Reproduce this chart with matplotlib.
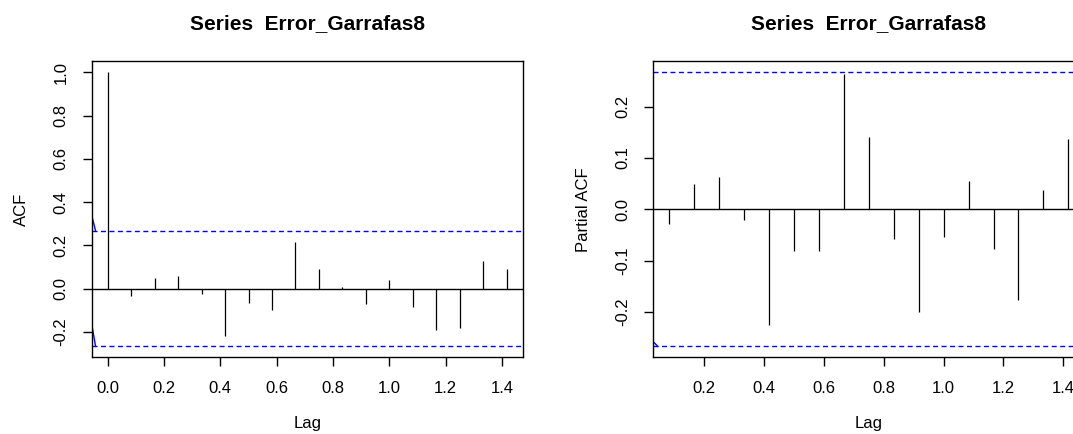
import numpy as np
import matplotlib
matplotlib.use("Agg")
import matplotlib.pyplot as plt

plt.rcParams['font.family'] = ['Liberation Sans', 'DejaVu Sans']
plt.rcParams['axes.unicode_minus'] = False

# series values (monthly series, lag in years)
n_obs = 54
acf_lags = np.arange(0, 18) / 12
acf_vals = [1.0, -0.034, 0.051, 0.059, -0.025, -0.221, -0.065, -0.100, 0.215,
            0.091, 0.006, -0.070, 0.039, -0.087, -0.193, -0.180, 0.127, 0.090]
pacf_lags = np.arange(1, 18) / 12
pacf_vals = [-0.028, 0.049, 0.063, -0.021, -0.225, -0.081, -0.081, 0.264, 0.140,
             -0.058, -0.199, -0.053, 0.055, -0.077, -0.176, 0.038, 0.136]
title = "Series  Error_Garrafas8"
clim = 1.96 / np.sqrt(n_obs)


def r_range(lo, hi):
    # R pads the data range by 4% on each side
    d = (hi - lo) * 0.04
    return lo - d, hi + d


def draw(ax, lags, vals, ylab, xticks, yticks):
    ax.vlines(lags, 0, vals, color='black', lw=0.9)
    ax.axhline(0, color='black', lw=1)
    for c in (clim, -clim):
        ax.axhline(c, color='blue', lw=1, ls=(0, (3.6, 2.5)))
    ax.set_xlim(*r_range(min(lags), max(lags)))
    ax.set_ylim(*r_range(min(min(vals), -clim), max(max(vals), clim)))
    ax.set_xticks(xticks)
    ax.set_xticklabels([f"{t:.1f}" for t in xticks])
    ax.set_yticks(yticks)
    ax.set_yticklabels([f"{t:.1f}" for t in yticks], rotation=90, va='center')
    ax.tick_params(length=6.3, width=1, labelsize=12)
    ax.tick_params(axis='x', pad=11)
    ax.tick_params(axis='y', pad=10.5)
    ax.set_xlabel("Lag", fontsize=12, labelpad=14)
    ax.set_ylabel(ylab, fontsize=12, labelpad=17.5)
    ax.set_title(title, fontsize=15, fontweight='bold', pad=23)
    for s in ax.spines.values():
        s.set_linewidth(1)


fig = plt.figure(figsize=(10.73, 4.34), dpi=100)
ax1 = fig.add_axes([91.7 / 1073, 76.7 / 434, 431 / 1073, 296 / 434])
ax2 = fig.add_axes([653.3 / 1073, 76.7 / 434, 431 / 1073, 296 / 434])

draw(ax1, acf_lags, acf_vals, "ACF", np.arange(0, 1.41, 0.2),
     np.arange(-0.2, 1.01, 0.2))
draw(ax2, pacf_lags, pacf_vals, "Partial ACF", np.arange(0.2, 1.41, 0.2),
     np.arange(-0.2, 0.21, 0.1))

# small solid blue strokes at the left edges, as in the original
x0 = ax1.get_xlim()[0]
ax1.plot([x0, -0.043], [0.339, clim], color='blue', lw=1)
ax1.plot([x0, -0.043], [-0.164, -clim], color='blue', lw=1)
x0 = ax2.get_xlim()[0]
ax2.plot([x0, 0.045], [-0.258, -clim], color='blue', lw=1)

fig.savefig("out.png", dpi=100)
